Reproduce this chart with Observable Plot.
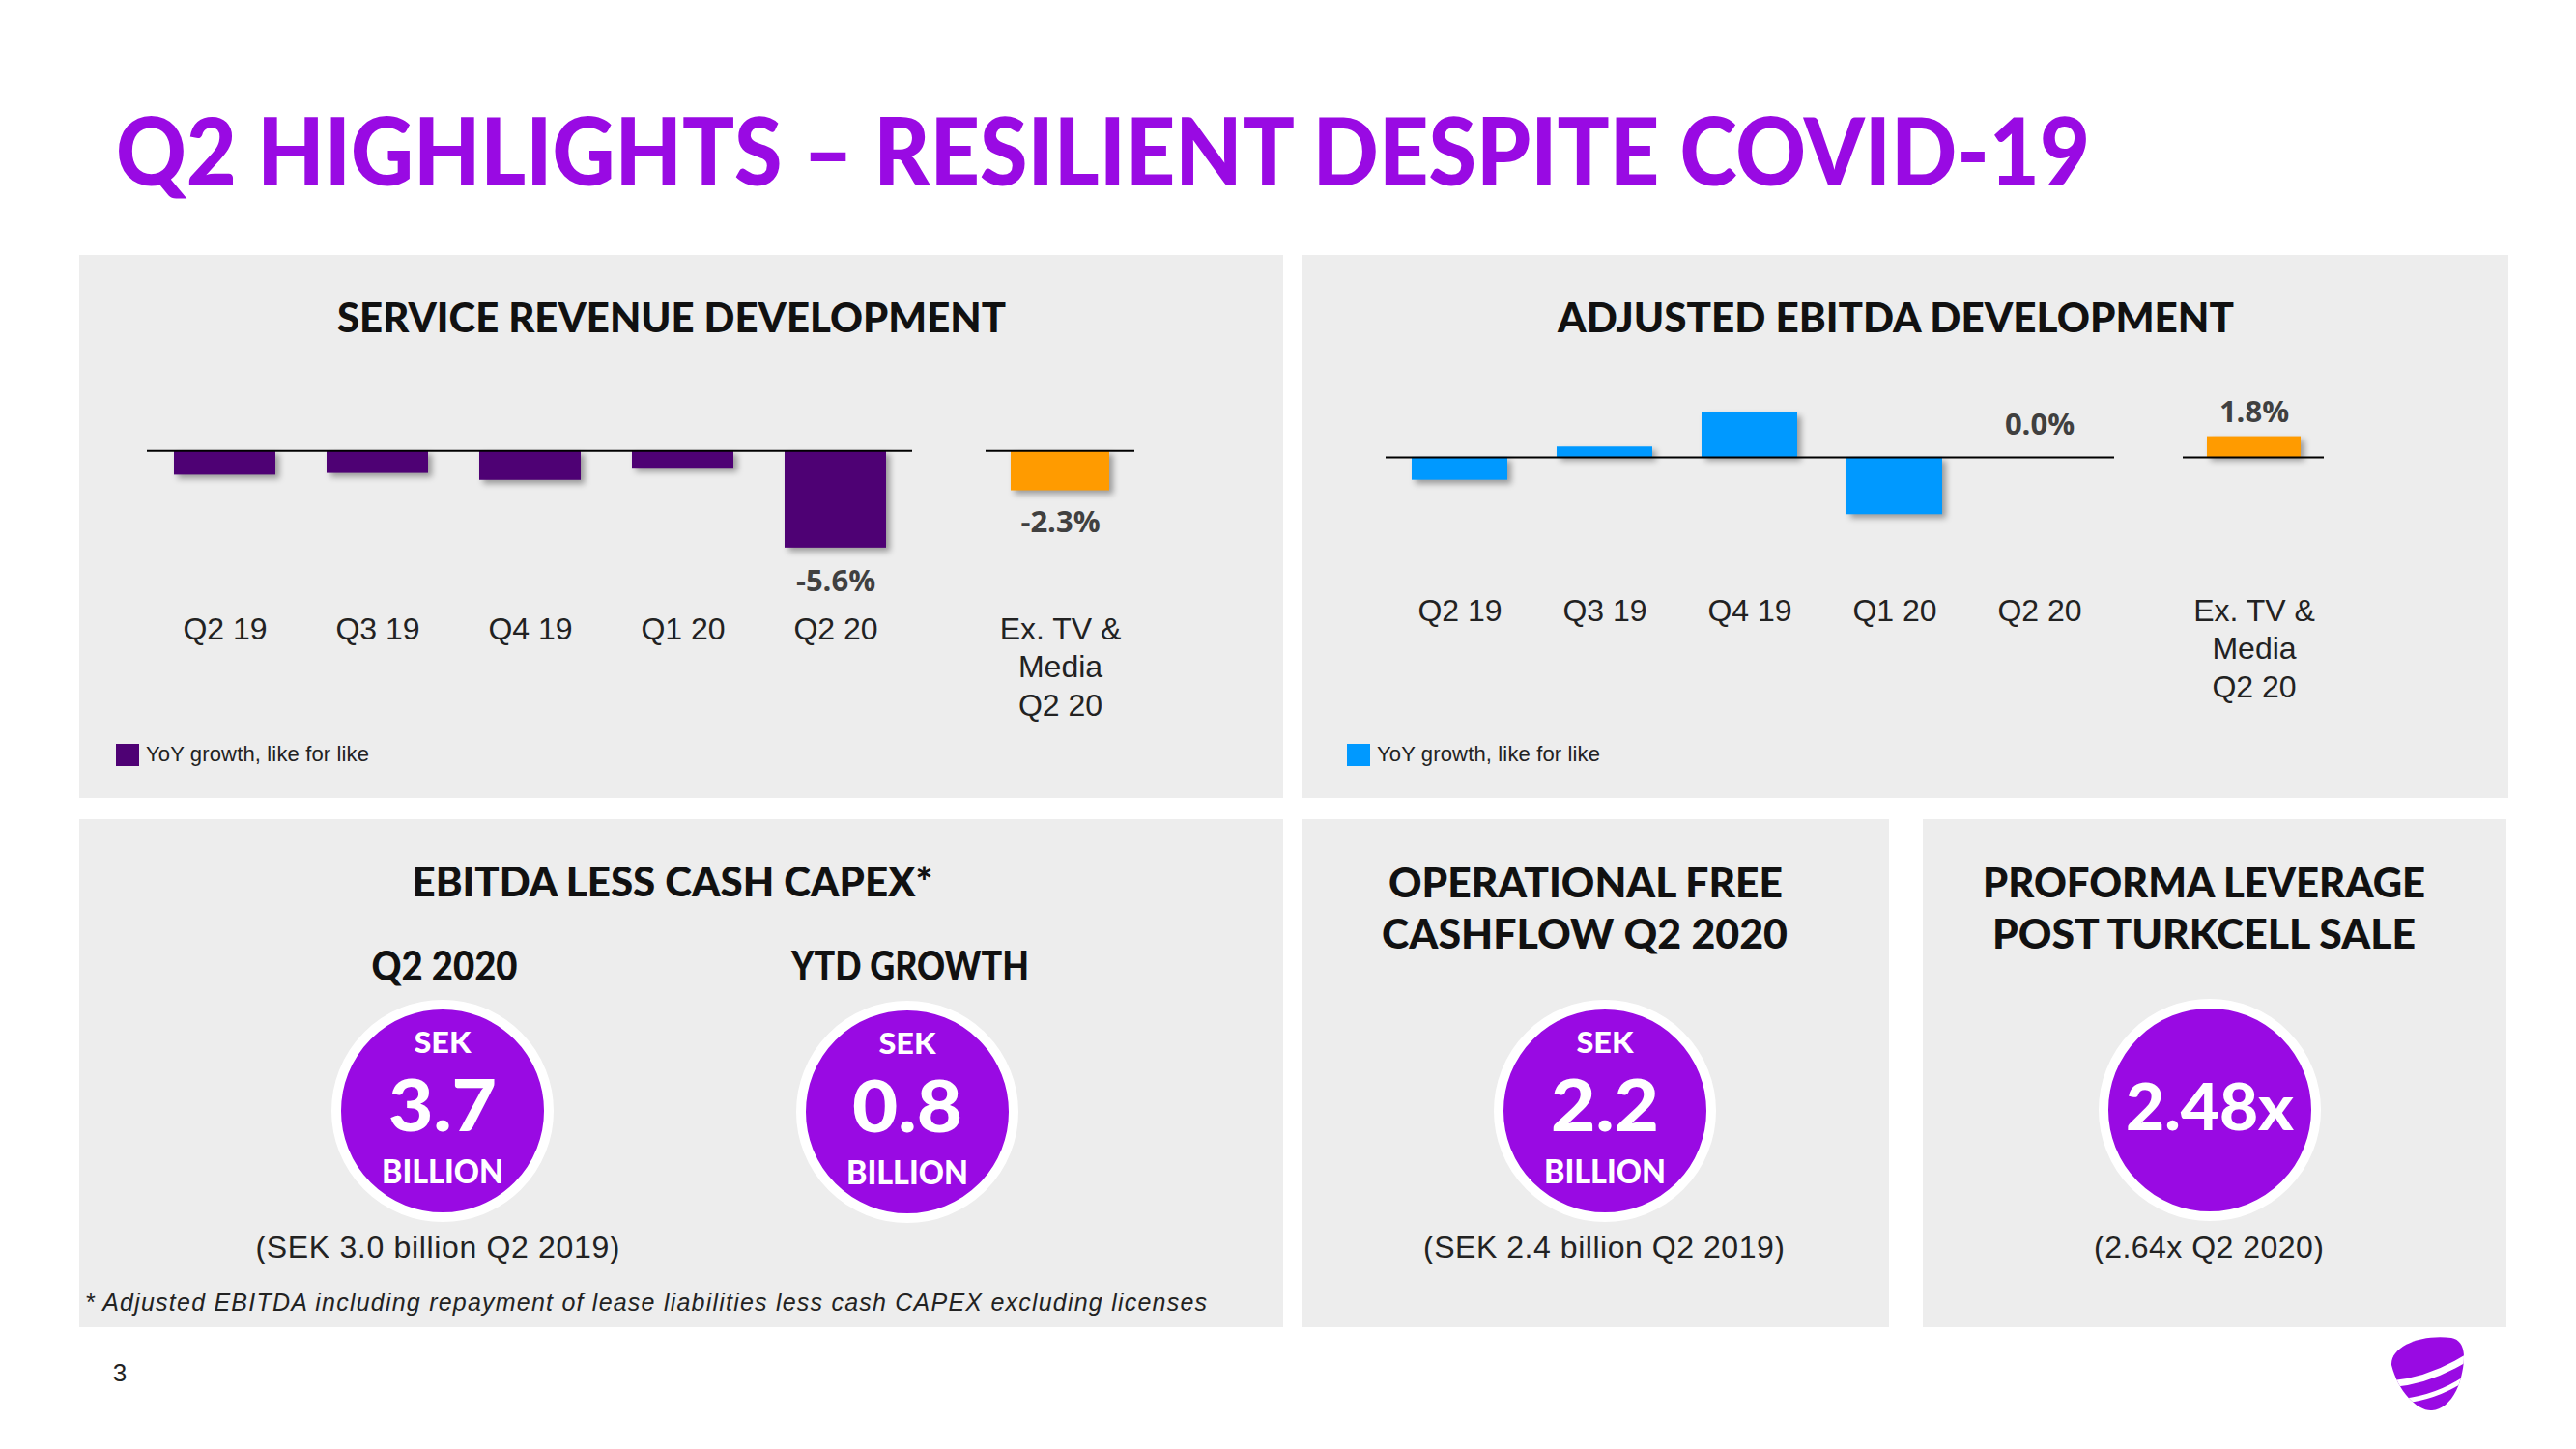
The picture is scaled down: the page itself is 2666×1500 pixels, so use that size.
<!DOCTYPE html>
<html><head><meta charset="utf-8">
<script src="https://cdn.jsdelivr.net/npm/d3@7"></script>
<script src="https://cdn.jsdelivr.net/npm/@observablehq/plot@0.6"></script>
<style>
html,body{margin:0;padding:0;background:#fff;}
#page{position:relative;width:2666px;height:1500px;overflow:hidden;background:#fff;}
#page > svg.bg{position:absolute;left:0;top:0;}
.plot{position:absolute;}
.plot svg{overflow:visible;}
</style></head><body><div id="page"></div>
<script>
// ---------------- DATA ----------------
const quarters = ["Q2 19", "Q3 19", "Q4 19", "Q1 20", "Q2 20"];
const exCategory = ["Ex. TV &\nMedia\nQ2 20"];
const serviceRevenueGrowth = [-1.4, -1.3, -1.7, -1.0, -5.6];
const serviceRevenueExTv = [-2.3];
const ebitdaGrowth = [-2.0, 0.9, 3.9, -5.0, 0.0];
const ebitdaExTv = [1.8];
const labelledQuarters = ["Q2 20"];
const legendLabel = "YoY growth, like for like";

const kpiTop = ["SEK", "SEK", "SEK", ""];
const kpiValues = ["3.7", "0.8", "2.2", "2.48x"];
const kpiBottom = ["BILLION", "BILLION", "BILLION", ""];
const kpiNotes = ["(SEK 3.0 billion Q2 2019)", "", "(SEK 2.4 billion Q2 2019)", "(2.64x Q2 2020)"];

const slideTitle = "Q2 HIGHLIGHTS \u2013 RESILIENT DESPITE COVID-19";
const panelHeadings = ["SERVICE REVENUE DEVELOPMENT", "ADJUSTED EBITDA DEVELOPMENT", "EBITDA LESS CASH CAPEX*",
  "Q2 2020", "YTD GROWTH", "OPERATIONAL FREE", "CASHFLOW Q2 2020", "PROFORMA LEVERAGE", "POST TURKCELL SALE"];
const footnote = "* Adjusted EBITDA including repayment of lease liabilities less cash CAPEX excluding licenses";
const pageNumber = "3";

// ---------------- STYLE ----------------
const PURPLE = "#990AE3", DEEP = "#4E0174", BLUE = "#0099FF", ORANGE = "#FF9B00", PANEL = "#EDEDED";
const HEAD = "Lato, 'Open Sans', sans-serif";
const BODY = "'Liberation Sans', Arial, sans-serif";

const page = document.getElementById("page");
const bg = d3.select(page).append("svg").attr("class", "bg").attr("width", 2666).attr("height", 1500);

function txt(o) {
  const t = bg.append("text").attr("x", o.x).attr("y", o.y).text(o.text)
    .attr("font-family", o.family || HEAD).attr("font-size", o.size)
    .attr("font-weight", o.weight || 900).attr("fill", o.fill || "#111")
    .attr("text-anchor", o.anchor || "middle");
  if (o.italic) t.attr("font-style", "italic");
  if (o.len) t.attr("textLength", o.len).attr("lengthAdjust", o.adjust || "spacingAndGlyphs");
  return t;
}

// panels
[[82, 264, 1246, 562], [1348, 264, 1248, 562], [82, 848, 1246, 526], [1348, 848, 607, 526], [1990, 848, 604, 526]]
  .forEach(([x, y, w, h]) => bg.append("rect").attr("x", x).attr("y", y).attr("width", w).attr("height", h).attr("fill", PANEL));

// slide title
txt({x: 120, y: 192, text: slideTitle, size: 97, fill: PURPLE, anchor: "start", len: 2043});

// headings
const headPos = [[695, 344, 692], [1962, 344, 700], [696, 928, 539], [460, 1015, 151], [942, 1015, 246],
  [1641, 929, 408], [1640, 982, 420], [2281, 929, 458], [2281, 982, 438]];
panelHeadings.forEach((h, i) => txt({x: headPos[i][0], y: headPos[i][1], text: h, size: 42, len: headPos[i][2]}));

// legends
[[120, DEEP], [1394, BLUE]].forEach(([x, c]) => {
  bg.append("rect").attr("x", x).attr("y", 770).attr("width", 24).attr("height", 23).attr("fill", c);
  txt({x: x + 31, y: 788, text: legendLabel, size: 22, family: BODY, weight: 400, fill: "#222", anchor: "start", len: 231, adjust: "spacing"});
});

// KPI circles
const kpiCenters = [[458, 1150], [939, 1151], [1661, 1150], [2287, 1149]];
const kpiValueLen = [112, 114, 112, 174];
kpiValues.forEach((v, i) => {
  const [cx, cy] = kpiCenters[i];
  bg.append("circle").attr("cx", cx).attr("cy", cy).attr("r", 110).attr("fill", PURPLE).attr("stroke", "#fff").attr("stroke-width", 10);
  if (kpiTop[i]) txt({x: cx, y: cy - 60, text: kpiTop[i], size: 31, fill: "#fff", len: 59});
  txt({x: cx, y: cy + 21, text: v, size: kpiTop[i] ? 75 : 66, fill: "#fff", len: kpiValueLen[i]});
  if (kpiBottom[i]) txt({x: cx, y: cy + 75, text: kpiBottom[i], size: 34, fill: "#fff", len: 126});
});
const noteLen = [377, 0, 374, 238];
kpiNotes.forEach((n, i) => {
  if (!n) return;
  txt({x: i === 0 ? 453 : kpiCenters[i][0] - 1, y: 1302, text: n, size: 32, family: BODY, weight: 400, fill: "#222", len: noteLen[i], adjust: "spacing"});
});

// footnote and page number
txt({x: 88, y: 1357, text: footnote, size: 25, family: BODY, weight: 400, fill: "#222", anchor: "start", italic: true, len: 1161, adjust: "spacing"});
txt({x: 124, y: 1430, text: pageNumber, size: 26, family: BODY, weight: 400, fill: "#222"});

// logo
const logo = bg.append("g").attr("transform", "translate(2512,1421)");
const eggPath = "M -37,-8 C -38,-28 -5,-40 25,-36 C 40,-33 40,-15 35,5 C 30,25 18,38 5,39 C -10,40 -30,20 -37,-8 Z";
bg.append("defs").append("clipPath").attr("id", "egg").append("path").attr("d", eggPath);
logo.append("path").attr("d", eggPath).attr("fill", PURPLE);
const stripes = logo.append("g").attr("clip-path", "url(#egg)");
stripes.append("path").attr("d", "M -42,12 Q 0,10 42,-16").attr("stroke", "#fff").attr("stroke-width", 7).attr("fill", "none");
stripes.append("path").attr("d", "M -34,30 Q 8,28 42,4").attr("stroke", "#fff").attr("stroke-width", 5).attr("fill", "none");

// ---------------- CHARTS ----------------
function barChart({cats, vals, color, width, left, top, domain, innerH, tickPadding, paddingOuter, labelDy, labelAll}) {
  const data = cats.map((c, i) => ({cat: c, v: vals[i]}));
  const lab = data.filter(d => labelAll || labelledQuarters.includes(d.cat));
  const mb = 180;
  const svg = Plot.plot({
    width, height: innerH + mb,
    marginLeft: 0, marginRight: 0, marginTop: 0, marginBottom: mb,
    style: {background: "transparent", overflow: "visible", fontFamily: BODY, fontSize: "32px", color: "#222"},
    x: {domain: cats, paddingInner: 0.337, paddingOuter, label: null},
    y: {domain, axis: null},
    marks: [
      Plot.barY(data, {x: "cat", y: "v", fill: color}),
      Plot.ruleY([0], {stroke: "#000", strokeWidth: 2}),
      Plot.text(lab, {x: "cat", y: "v", text: d => d.v.toFixed(1) + "%", dy: labelDy,
        fontSize: 31, fontWeight: 700, fontFamily: "'Open Sans', sans-serif", fill: "#404040"}),
      Plot.axisX({tickSize: 0, tickPadding, fontSize: 32, lineHeight: 1.24, label: null, fill: "#222"})
    ]
  });
  svg.querySelectorAll('g[aria-label="bar"]').forEach(g => g.style.filter = "drop-shadow(4px 4px 3px rgba(0,0,0,0.35))");
  const div = document.createElement("div");
  div.className = "plot";
  div.style.left = left + "px"; div.style.top = top + "px"; div.style.width = width + "px";
  div.appendChild(svg);
  page.appendChild(div);
}

// Service revenue
barChart({cats: quarters, vals: serviceRevenueGrowth, color: DEEP, width: 792, left: 152, top: 380,
  domain: [-7, 4.8], innerH: 212, tickPadding: 41, paddingOuter: 0.17, labelDy: 35});
barChart({cats: exCategory, vals: serviceRevenueExTv, color: ORANGE, width: 154, left: 1020, top: 380,
  domain: [-7, 4.8], innerH: 212, tickPadding: 41, paddingOuter: 0.15, labelDy: 33, labelAll: true});

// Adjusted EBITDA
barChart({cats: quarters, vals: ebitdaGrowth, color: BLUE, width: 754, left: 1434, top: 378,
  domain: [-7, 8], innerH: 178, tickPadding: 58, paddingOuter: 0.173, labelDy: -33});
barChart({cats: exCategory, vals: ebitdaExTv, color: ORANGE, width: 146, left: 2259, top: 378,
  domain: [-7, 8], innerH: 178, tickPadding: 58, paddingOuter: 0.148, labelDy: -25, labelAll: true});
</script></body></html>
